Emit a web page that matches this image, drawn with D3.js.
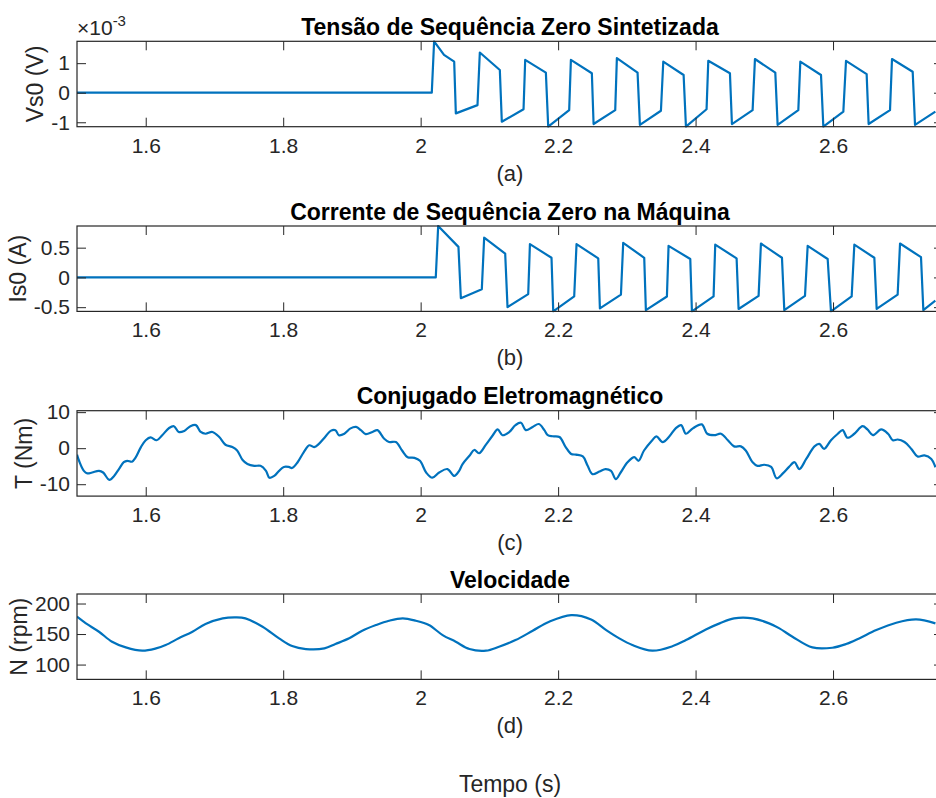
<!DOCTYPE html>
<html lang="pt">
<head>
    <meta charset="UTF-8">
    <script src="https://d3js.org/d3.v7.min.js"></script>
    <title>Sequência Zero</title>
    <style>
        body {
            margin: 0;
            background-color: #ffffff;
        }

        svg {
            display: block;
            font-family: "Liberation Sans", Arial, Helvetica, sans-serif;
        }

        .tick text {
            fill: #262626;
            font-size: 21px;
        }

        .tick line {
            stroke: #262626;
            stroke-width: 1;
        }

        .series {
            fill: none;
            stroke: #0072BD;
            stroke-width: 2.2px;
            stroke-linejoin: round;
        }
    </style>
</head>
<body>
    <svg id="chart" width="936" height="798"></svg>

    <script>
        // time axis (s)
        const xTicks = [1.6, 1.8, 2.0, 2.2, 2.4, 2.6];

        // (a) Vs0, in units of 1e-3 V
        const timeVs0 = [1.5, 2.0162, 2.0196, 2.034, 2.0488, 2.0512, 2.0827, 2.0861, 2.1152, 2.1181,
            2.1497, 2.1521, 2.1822, 2.1856, 2.2161, 2.2186, 2.2491, 2.2516, 2.2831, 2.2855,
            2.3156, 2.319, 2.3496, 2.353, 2.3826, 2.386, 2.416, 2.4185, 2.45, 2.4529,
            2.483, 2.4864, 2.516, 2.5194, 2.5495, 2.5524, 2.5825, 2.5859, 2.615, 2.6189,
            2.6489, 2.6518, 2.6829, 2.6858, 2.7159, 2.7193, 2.7489];
        const vs0 = [0, 0, 1.74, 1.28, 1.05, -0.70, -0.42, 1.36, 0.77, -0.98,
            -0.56, 1.11, 0.68, -1.15, -0.59, 1.11, 0.66, -1.06, -0.59, 1.17,
            0.68, -1.09, -0.61, 1.05, 0.60, -1.15, -0.56, 1.08, 0.66, -1.06,
            -0.59, 1.14, 0.68, -1.09, -0.59, 1.05, 0.60, -1.15, -0.64, 1.08,
            0.63, -1.06, -0.59, 1.14, 0.71, -1.09, -0.64];
        const vs0Ticks = [-1, 0, 1];

        // (b) Is0 (A)
        const timeIs0 = [1.5, 2.022, 2.0255, 2.055, 2.0585, 2.089, 2.0924, 2.123, 2.1264, 2.1565,
            2.159, 2.1904, 2.1929, 2.2234, 2.2268, 2.2584, 2.2608, 2.2914, 2.2947, 2.3253,
            2.3277, 2.3583, 2.3607, 2.3923, 2.3947, 2.4262, 2.4286, 2.4597, 2.4626, 2.4917,
            2.4951, 2.5257, 2.5291, 2.5592, 2.5631, 2.5922, 2.597, 2.6271, 2.631, 2.6601,
            2.6635, 2.694, 2.6975, 2.728, 2.7314, 2.7489];
        const is0 = [0, 0, 0.864, 0.513, -0.35, -0.20, 0.667, 0.40, -0.50, -0.28,
            0.56, 0.33, -0.571, -0.32, 0.56, 0.32, -0.52, -0.29, 0.58, 0.33,
            -0.55, -0.32, 0.53, 0.31, -0.571, -0.32, 0.55, 0.32, -0.53, -0.31,
            0.57, 0.33, -0.55, -0.31, 0.53, 0.31, -0.571, -0.32, 0.55, 0.33,
            -0.53, -0.29, 0.57, 0.34, -0.55, -0.39];
        const is0Ticks = [-0.5, 0, 0.5];

        // (c) torque (Nm)
        const timeTorque = [1.5, 1.503, 1.510, 1.515, 1.522, 1.532, 1.538, 1.547, 1.554, 1.561,
            1.568, 1.573, 1.580, 1.585, 1.593, 1.600, 1.607, 1.616, 1.624, 1.634,
            1.641, 1.648, 1.656, 1.665, 1.673, 1.680, 1.687, 1.697, 1.707, 1.716,
            1.726, 1.733, 1.741, 1.748, 1.758, 1.767, 1.775, 1.780, 1.787, 1.794,
            1.801, 1.808, 1.813, 1.821, 1.830, 1.838, 1.845, 1.852, 1.861, 1.869,
            1.876, 1.881, 1.889, 1.898, 1.906, 1.913, 1.920, 1.930, 1.937, 1.947,
            1.954, 1.964, 1.973, 1.981, 1.991, 1.999, 2.008, 2.017, 2.027, 2.039,
            2.049, 2.056, 2.061, 2.071, 2.078, 2.085, 2.095, 2.105, 2.112, 2.119,
            2.129, 2.138, 2.146, 2.153, 2.163, 2.172, 2.180, 2.185, 2.192, 2.202,
            2.211, 2.219, 2.226, 2.236, 2.243, 2.250, 2.260, 2.269, 2.277, 2.284,
            2.291, 2.301, 2.311, 2.317, 2.325, 2.337, 2.343, 2.352, 2.362, 2.371,
            2.379, 2.386, 2.396, 2.409, 2.417, 2.427, 2.437, 2.447, 2.456, 2.466,
            2.473, 2.483, 2.490, 2.500, 2.510, 2.518, 2.527, 2.536, 2.544, 2.551,
            2.561, 2.573, 2.580, 2.587, 2.597, 2.607, 2.614, 2.621, 2.631, 2.643,
            2.650, 2.658, 2.670, 2.680, 2.687, 2.694, 2.704, 2.714, 2.723, 2.733,
            2.743, 2.749];
        const torque = [-1.8, -3.5, -6.3, -7.0, -6.75, -6.3, -6.75, -8.8, -7.7, -5.8,
            -3.9, -3.5, -3.75, -2.7, 0.3, 2.2, 3.0, 2.2, 3.6, 5.6,
            6.1, 4.5, 4.8, 6.1, 6.4, 4.5, 4.0, 4.5, 3.1, 0.95,
            0.3, -0.65, -3.3, -4.4, -4.9, -4.9, -6.3, -8.2, -7.7, -6.3,
            -5.2, -5.2, -5.5, -3.9, -1.1, 0.8, 0.3, 1.2, 3.1, 4.8,
            5.0, 3.6, 4.0, 5.5, 5.9, 5.0, 3.9, 4.5, 5.0, 2.6,
            1.7, 1.7, -0.65, -2.5, -2.7, -3.5, -6.75, -8.2, -6.75, -5.8,
            -7.7, -6.3, -4.4, -2.1, -0.5, -1.4, 1.0, 3.6, 5.2, 3.6,
            4.5, 6.4, 7.05, 5.0, 5.9, 6.7, 5.0, 3.6, 3.3, 3.1,
            0.3, -1.6, -1.8, -2.3, -4.9, -7.2, -6.5, -5.8, -6.3, -8.6,
            -6.75, -3.9, -2.5, -3.5, -0.65, 2.2, 3.3, 1.7, 3.3, 5.5,
            6.4, 4.0, 5.5, 6.6, 4.0, 3.6, 4.0, 2.2, 0.5, 0.5,
            -0.65, -3.9, -4.9, -4.6, -5.2, -8.35, -7.0, -5.2, -3.9, -5.8,
            -3.0, 0.5, 1.2, -0.2, 2.2, 4.0, 5.0, 2.9, 4.0, 6.1,
            5.2, 3.6, 5.2, 4.0, 2.2, 2.4, 1.7, -0.2, -2.3, -2.0,
            -3.0, -5.3];
        const torqueTicks = [-10, 0, 10];

        // (d) speed (rpm)
        const timeSpeed = [1.5, 1.513, 1.532, 1.551, 1.571, 1.595, 1.615, 1.629, 1.648, 1.668,
            1.687, 1.712, 1.731, 1.745, 1.770, 1.794, 1.813, 1.833, 1.860, 1.876,
            1.896, 1.915, 1.935, 1.954, 1.974, 1.993, 2.012, 2.032, 2.051, 2.071,
            2.095, 2.114, 2.138, 2.163, 2.187, 2.219, 2.248, 2.270, 2.289, 2.308,
            2.337, 2.367, 2.386, 2.415, 2.435, 2.456, 2.483, 2.507, 2.522, 2.541,
            2.570, 2.599, 2.619, 2.638, 2.663, 2.692, 2.721, 2.749];
        const speed = [178.4, 167.5, 153.8, 137.4, 128.1, 122.7, 126.5, 132, 143, 153.8,
            166.4, 175.7, 177.3, 175.7, 162, 143, 130.3, 125.4, 126.5, 133.6,
            143, 155.4, 164.7, 171.8, 175.7, 171.8, 164.7, 148.3, 137.4, 125.4,
            122.7, 129.2, 140.1, 155.4, 170.2, 181.1, 174, 156.5, 142.9, 132,
            122.7, 130.3, 140.1, 157.6, 167.5, 175.7, 175.7, 167.5, 159.3, 145.6,
            128.1, 127.6, 133.6, 142.9, 156.5, 168.6, 174, 167.5];
        const speedTicks = [100, 150, 200];

        const panels = [
            { t: timeVs0, v: vs0, yTicks: vs0Ticks, yDomain: [-1.15, 1.74], top: 41.3,
              title: "Tensão de Sequência Zero Sintetizada", ylabel: "Vs0 (V)", tag: "(a)",
              exponent: true, smooth: false },
            { t: timeIs0, v: is0, yTicks: is0Ticks, yDomain: [-0.571, 0.864], top: 226,
              title: "Corrente de Sequência Zero na Máquina", ylabel: "Is0 (A)", tag: "(b)", smooth: false },
            { t: timeTorque, v: torque, yTicks: torqueTicks, yDomain: [-13.3, 10.4], top: 410.7,
              title: "Conjugado Eletromagnético", ylabel: "T (Nm)", tag: "(c)", smooth: true },
            { t: timeSpeed, v: speed, yTicks: speedTicks, yDomain: [75.7, 215.6], top: 594,
              title: "Velocidade", ylabel: "N (rpm)", tag: "(d)", smooth: true }
        ];

        const svg = d3.select("#chart");
        svg.append("rect").attr("width", 936).attr("height", 798).attr("fill", "#fff");

        const left = 77, right = 943, boxH = 85.4;
        const x = d3.scaleLinear().domain([1.5, 2.76]).range([left, right]);
        const fmt = d => String(d);

        panels.forEach((p, i) => {
            const y = d3.scaleLinear().domain(p.yDomain).range([p.top + boxH, p.top]);
            const g = svg.append("g");

            g.append("clipPath").attr("id", "clip" + i)
                .append("rect")
                .attr("x", left).attr("y", p.top - 1)
                .attr("width", right - left).attr("height", boxH + 2);

            const line = d3.line()
                .x((d, k) => x(p.t[k]))
                .y(d => y(d))
                .curve(p.smooth ? d3.curveCatmullRom.alpha(0.5) : d3.curveLinear);

            g.append("path")
                .attr("class", "series")
                .attr("clip-path", `url(#clip${i})`)
                .attr("d", line(p.v));

            // axes, ticks pointing inward on all four sides
            const bottom = g.append("g").attr("transform", `translate(0,${p.top + boxH})`)
                .call(d3.axisBottom(x).tickValues(xTicks).tickSize(-9).tickPadding(11).tickFormat(fmt));
            g.append("g").attr("transform", `translate(0,${p.top})`)
                .call(d3.axisTop(x).tickValues(xTicks).tickSize(-9).tickFormat(""));
            const yAxis = g.append("g").attr("transform", `translate(${left},0)`)
                .call(d3.axisLeft(y).tickValues(p.yTicks).tickSize(-9).tickPadding(7).tickFormat(fmt));
            g.append("g").attr("transform", `translate(${right},0)`)
                .call(d3.axisRight(y).tickValues(p.yTicks).tickSize(-9).tickFormat(""));
            g.selectAll(".domain").remove();
            g.selectAll(".tick text").attr("font-family", null).attr("font-size", null);

            g.append("rect")
                .attr("x", left).attr("y", p.top)
                .attr("width", right - left).attr("height", boxH)
                .attr("fill", "none").attr("stroke", "#262626").attr("stroke-width", 1.2);

            const cx = (left + right) / 2;

            g.append("text")
                .attr("x", cx).attr("y", p.top - 6.5)
                .attr("text-anchor", "middle")
                .attr("font-size", 23).attr("font-weight", "bold").attr("fill", "#000")
                .text(p.title);

            g.append("text")
                .attr("x", cx).attr("y", p.top + boxH + 54)
                .attr("text-anchor", "middle")
                .attr("font-size", 22).attr("fill", "#262626")
                .text(p.tag);

            // y label sits just left of the widest tick label
            let minX = left;
            yAxis.selectAll(".tick text").each(function () {
                const b = this.getBBox();
                minX = Math.min(minX, left + b.x);
            });
            g.append("text")
                .attr("transform", `translate(${minX - 8},${p.top + boxH / 2}) rotate(-90)`)
                .attr("text-anchor", "middle")
                .attr("font-size", 23).attr("fill", "#262626")
                .text(p.ylabel);

            if (p.exponent) {
                const e = g.append("text")
                    .attr("x", left).attr("y", p.top - 6.5)
                    .attr("font-size", 21).attr("fill", "#262626");
                e.append("tspan").text("×10");
                e.append("tspan").attr("font-size", 15).attr("dy", -9).text("-3");
            }
        });

        svg.append("text")
            .attr("x", (left + right) / 2).attr("y", 792)
            .attr("text-anchor", "middle")
            .attr("font-size", 23).attr("fill", "#262626")
            .text("Tempo (s)");
    </script>
</body>
</html>
